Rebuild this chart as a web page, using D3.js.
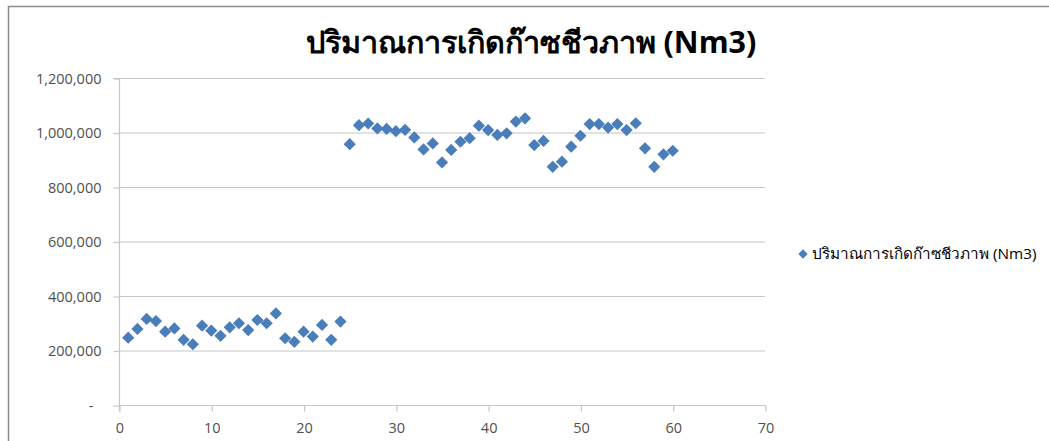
<!DOCTYPE html>
<html>
<head>
<meta charset="utf-8">
<script src="https://cdn.jsdelivr.net/npm/d3@7"></script>
<style>
  html, body { margin: 0; padding: 0; background: #fff; }
  svg { display: block; }
  text { font-family: "Open Sans", "Noto Sans", sans-serif; }
</style>
</head>
<body>
<svg id="chart" width="1049" height="441"></svg>
<script>
// Biogas production per sample (Nm3)
const seriesName = "ปริมาณการเกิดก๊าซชีวภาพ (Nm3)";
const sampleNo = d3.range(1, 61);
const biogas = [
  247000, 279000, 316000, 308000, 269000, 281000, 239000, 223000, 291000, 273000,
  254000, 285000, 300000, 275000, 312000, 300000, 336000, 245000, 232000, 269000,
  251000, 294000, 239000, 306000, 957000, 1027000, 1033000, 1015000, 1013000, 1005000,
  1010000, 982000, 938000, 960000, 890000, 936000, 966000, 979000, 1025000, 1009000,
  991000, 997000, 1040000, 1052000, 954000, 969000, 874000, 893000, 948000, 988000,
  1031000, 1031000, 1018000, 1031000, 1009000, 1034000, 942000, 874000, 920000, 933000
];
const xTicks = [0, 10, 20, 30, 40, 50, 60, 70];
const yTicks = [0, 200000, 400000, 600000, 800000, 1000000, 1200000];

const svg = d3.select("#chart");
const plot = { left: 119, right: 765, top: 78, bottom: 405 };

// outer chart frame
svg.append("rect")
  .attr("x", 8.5).attr("y", 6.5)
  .attr("width", 1100).attr("height", 500)
  .attr("fill", "#fff").attr("stroke", "#8c8c8c").attr("stroke-width", 1.5);

const x = d3.scaleLinear().domain([0, 70]).range([plot.left, plot.right]);
const y = d3.scaleLinear().domain([0, 1200000]).range([plot.bottom, plot.top]);

// horizontal gridlines
svg.append("g")
  .selectAll("line")
  .data(yTicks.filter(v => v > 0))
  .join("line")
  .attr("x1", plot.left).attr("x2", plot.right)
  .attr("y1", d => y(d) + 0.5).attr("y2", d => y(d) + 0.5)
  .attr("stroke", "#c6c6c6").attr("stroke-width", 1.2);

// y axis
const fmt = d3.format(",");
const yAxis = svg.append("g")
  .attr("transform", `translate(${plot.left + 0.5},0.5)`)
  .call(d3.axisLeft(y).tickValues(yTicks).tickSize(6).tickPadding(12)
    .tickFormat(d => d === 0 ? "-" : fmt(d)));
yAxis.select(".domain").attr("stroke", "#c6c6c6").attr("stroke-width", 1.2)
  .attr("d", `M-6,${plot.top}H0V${plot.bottom + 6}`);
yAxis.selectAll(".tick line").attr("stroke", "#c6c6c6").attr("stroke-width", 1.2);
yAxis.selectAll(".tick text").attr("fill", "#505050").style("font-size", "14.5px")
  .attr("dx", d => d === 0 ? -8 : 0);

// x axis
const xAxis = svg.append("g")
  .attr("transform", `translate(0.5,${plot.bottom + 0.5})`)
  .call(d3.axisBottom(x).tickValues(xTicks).tickSize(6).tickPadding(11));
xAxis.select(".domain").attr("stroke", "#c6c6c6").attr("stroke-width", 1.2)
  .attr("d", `M${plot.left},0H${plot.right}`);
xAxis.selectAll(".tick line").attr("stroke", "#c6c6c6").attr("stroke-width", 1.2);
xAxis.selectAll(".tick text").attr("fill", "#505050").style("font-size", "14.5px");

// diamond markers
const diamond = d3.symbol().type(d3.symbolDiamond2).size(95);
svg.append("g")
  .selectAll("path")
  .data(biogas)
  .join("path")
  .attr("d", diamond)
  .attr("transform", (d, i) => `translate(${x(sampleNo[i])},${y(d)})`)
  .attr("fill", "#4a7ebb");

// title
svg.append("text")
  .attr("x", 531).attr("y", 53)
  .attr("text-anchor", "middle")
  .attr("font-weight", "bold")
  .style("font-size", "30.5px")
  .attr("fill", "#000")
  .text(seriesName);

// legend
svg.append("path")
  .attr("d", d3.symbol().type(d3.symbolDiamond2).size(55))
  .attr("transform", "translate(803,254)")
  .attr("fill", "#4a7ebb");
svg.append("text")
  .attr("x", 812).attr("y", 259)
  .style("font-size", "15.3px")
  .attr("fill", "#000")
  .text(seriesName);
</script>
</body>
</html>
